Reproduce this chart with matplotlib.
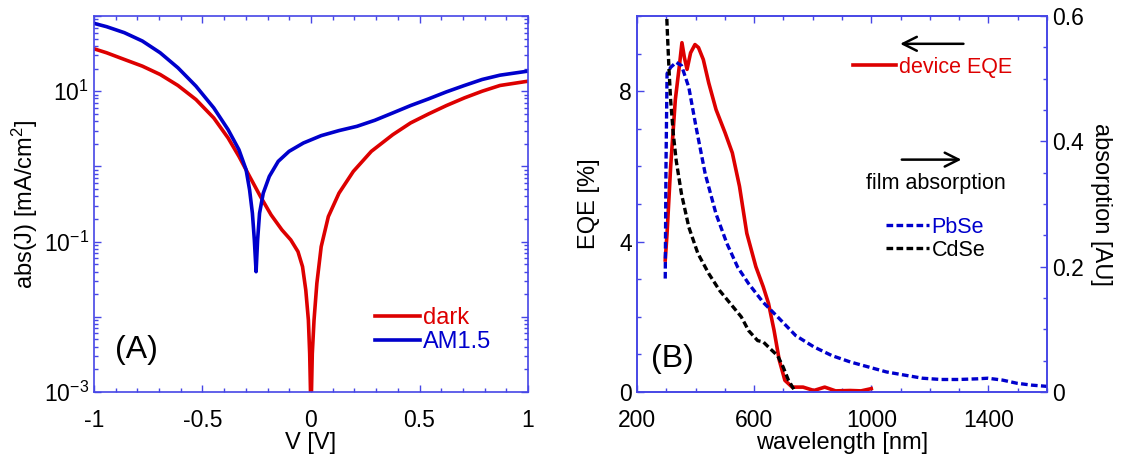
import math
import matplotlib
matplotlib.use('Agg')
import matplotlib.pyplot as plt
from matplotlib.ticker import MultipleLocator, FixedLocator, LogLocator, FuncFormatter, NullFormatter

plt.rcParams['font.family'] = ['Liberation Sans', 'DejaVu Sans']
plt.rcParams['mathtext.fontset'] = 'custom'
plt.rcParams['mathtext.rm'] = 'Liberation Sans'
plt.rcParams['mathtext.it'] = 'Liberation Sans'

RED = '#dd0000'
BLUE = '#0000cc'
SPINE = '#4646e6'

# (A) J-V curves, log10 of abs(J) in mA/cm^2
v_light = [-1.0, -0.942, -0.860, -0.777, -0.695, -0.613, -0.530, -0.448, -0.382, -0.332, -0.299,
           -0.283, -0.270, -0.261, -0.253, -0.246, -0.237, -0.220, -0.192, -0.151, -0.101, -0.035,
           0.047, 0.129, 0.212, 0.294, 0.377, 0.459, 0.542, 0.624, 0.707, 0.789, 0.871, 1.0]
logj_light = [1.902, 1.858, 1.778, 1.667, 1.511, 1.311, 1.067, 0.778, 0.489, 0.222, -0.044,
              -0.311, -0.622, -0.978, -1.4, -0.978, -0.622, -0.356, -0.133, 0.067, 0.2, 0.311,
              0.409, 0.476, 0.533, 0.613, 0.711, 0.809, 0.898, 0.991, 1.076, 1.156, 1.213, 1.267]

v_dark = [-1.0, -0.942, -0.860, -0.777, -0.695, -0.613, -0.530, -0.448, -0.382, -0.332, -0.283,
          -0.233, -0.184, -0.134, -0.093, -0.060, -0.039, -0.024, -0.012, -0.006, 0.0, 0.006,
          0.014, 0.027, 0.047, 0.080, 0.129, 0.195, 0.278, 0.377, 0.459, 0.542, 0.624, 0.707,
          0.789, 0.871, 1.0]
logj_dark = [1.564, 1.511, 1.422, 1.333, 1.222, 1.076, 0.889, 0.644, 0.378, 0.133, -0.133,
             -0.4, -0.644, -0.844, -0.978, -1.133, -1.333, -1.644, -2.044, -2.49, -3.3, -2.49,
             -2.044, -1.556, -1.067, -0.667, -0.356, -0.067, 0.2, 0.422, 0.578, 0.698, 0.809, 0.911,
             1.0, 1.076, 1.133]

j_light = [10 ** v for v in logj_light]
j_dark = [10 ** v for v in logj_dark]

# (B) device EQE [%]
wl_eqe = [296.5, 302.7, 315, 331, 346, 353.5, 362, 371, 383, 398, 410, 426.5, 445, 470, 501,
          525.5, 550, 575, 606, 631, 649, 668, 686, 705, 730, 767, 804, 841, 878, 928, 965, 1000]
eqe = [3.51, 4.22, 6.0, 7.78, 8.76, 9.29, 8.89, 8.58, 9.02, 9.24, 9.16, 8.84, 8.22, 7.51, 6.89,
       6.36, 5.47, 4.22, 3.33, 2.8, 2.36, 1.64, 0.84, 0.31, 0.13, 0.13, 0.04, 0.13, 0.03, 0.04, 0.03, 0.09]

# film absorption [AU]
wl_pbse = [296.5, 299, 302.7, 315, 333.7, 352, 377, 402, 433, 470, 507, 544, 581, 631, 680, 742,
           804, 866, 928, 990, 1052, 1113, 1175, 1237, 1299, 1361, 1398, 1448, 1497, 1547, 1600]
abs_pbse = [0.181, 0.359, 0.508, 0.518, 0.526, 0.521, 0.486, 0.422, 0.348, 0.284, 0.237, 0.199,
            0.173, 0.143, 0.120, 0.090, 0.072, 0.058, 0.048, 0.040, 0.032, 0.027, 0.022, 0.020,
            0.020, 0.021, 0.022, 0.019, 0.014, 0.011, 0.009]

wl_cdse = [299, 304, 309, 315, 324, 334, 352, 377, 408, 445, 482, 519, 556, 581, 612, 631, 655,
           680, 699, 717, 736, 742]
abs_cdse = [0.63, 0.571, 0.518, 0.465, 0.412, 0.369, 0.316, 0.263, 0.221, 0.189, 0.162, 0.141,
            0.120, 0.098, 0.082, 0.080, 0.069, 0.058, 0.040, 0.019, 0.004, 0.0]

wl_ticks = [200, 600, 1000, 1400]

fig = plt.figure(figsize=(11.28, 4.62), dpi=100)
ax1 = fig.add_axes([0.0833, 0.1515, 0.3848, 0.8139])
ax2 = fig.add_axes([0.5647, 0.1515, 0.3635, 0.8139])


def style_spines(ax):
    for s in ax.spines.values():
        s.set_color(SPINE)
        s.set_linewidth(1.2)


def style_ticks(ax, **kw):
    ax.tick_params(which='both', direction='in', color=SPINE, labelsize=16.5, **kw)
    ax.tick_params(which='major', length=5, width=1)
    ax.tick_params(which='minor', length=3, width=1)


# Panel A
ax1.semilogy(v_dark, j_dark, color=RED, lw=2.6, label='dark')
ax1.semilogy(v_light, j_light, color=BLUE, lw=2.6, label='AM1.5')
ax1.set_xlim(-1, 1)
ax1.set_ylim(1e-3, 1e2)
ax1.xaxis.set_major_locator(MultipleLocator(0.5))
ax1.xaxis.set_minor_locator(MultipleLocator(0.1))
ax1.xaxis.set_major_formatter(FuncFormatter(lambda x, p: '%g' % x))
ax1.yaxis.set_major_locator(LogLocator(base=10, numticks=20))
ax1.yaxis.set_minor_locator(LogLocator(base=10, subs=range(2, 10), numticks=20))
ax1.yaxis.set_minor_formatter(NullFormatter())


def log_fmt(y, p):
    e = int(round(math.log10(y)))
    if e % 2 == 0:
        return ''
    return r'$\mathregular{10^{%d}}$' % e


ax1.yaxis.set_major_formatter(FuncFormatter(log_fmt))
style_ticks(ax1, top=True, right=True)
ax1.tick_params(axis='x', pad=12)
style_spines(ax1)
ax1.set_xlabel('V [V]', fontsize=17, labelpad=0)
ax1.set_ylabel(r'abs(J) [mA/cm$\mathregular{^2}$]', fontsize=17, labelpad=3)
ax1.text(0.099, 0.111, '(A)', transform=ax1.transAxes, fontsize=23, ha='center', va='center')
ax1.legend(loc='center left', bbox_to_anchor=(0.648, 0.165), frameon=False, fontsize=17,
           labelcolor='linecolor', handlelength=1.9, handletextpad=0.12, labelspacing=0.1,
           borderaxespad=0, borderpad=0)

# Panel B
ax2.plot(wl_eqe, eqe, color=RED, lw=2.6, label='device EQE')
ax2.set_xlim(200, 1600)
ax2.set_ylim(0, 10)
ax2.xaxis.set_major_locator(FixedLocator(wl_ticks))
ax2.xaxis.set_minor_locator(MultipleLocator(100))
ax2.yaxis.set_major_locator(MultipleLocator(4))
ax2.yaxis.set_minor_locator(MultipleLocator(1))
style_ticks(ax2, top=True, right=False)
ax2.tick_params(axis='x', pad=12)
style_spines(ax2)
ax2.set_xlabel('wavelength [nm]', fontsize=17, labelpad=0)
ax2.set_ylabel('EQE [%]', fontsize=17, labelpad=14)
ax2.text(0.087, 0.089, '(B)', transform=ax2.transAxes, fontsize=23, ha='center', va='center')

ax3 = ax2.twinx()
ax3.plot(wl_pbse, abs_pbse, color=BLUE, lw=2.4, ls=(0, (2, 1)), label='PbSe')
ax3.plot(wl_cdse, abs_cdse, color='black', lw=2.4, ls=(0, (2, 1)), label='CdSe')
ax3.set_ylim(0, 0.6)
ax3.yaxis.set_major_locator(MultipleLocator(0.2))
ax3.yaxis.set_minor_locator(MultipleLocator(0.05))
ax3.yaxis.set_major_formatter(FuncFormatter(lambda y, p: '%g' % round(y, 2)))
style_ticks(ax3)
style_spines(ax3)
ax3.set_ylabel('absorption [AU]', fontsize=17, rotation=270, labelpad=20)

ax2.legend(loc='center left', bbox_to_anchor=(0.527, 0.864), frameon=False, fontsize=15.5,
           labelcolor='linecolor', handlelength=2.0, handletextpad=0.12, borderaxespad=0,
           borderpad=0)
ax3.legend(loc='center left', bbox_to_anchor=(0.607, 0.408), frameon=False, fontsize=15.5,
           labelcolor='linecolor', handlelength=2.0, handletextpad=0.12, labelspacing=0.1,
           borderaxespad=0, borderpad=0)

ax3.annotate('', xy=(0.635, 0.926), xytext=(0.803, 0.926), xycoords='axes fraction',
             arrowprops=dict(arrowstyle='->', color='black', lw=1.8, mutation_scale=25))
ax3.annotate('', xy=(0.798, 0.618), xytext=(0.639, 0.618), xycoords='axes fraction',
             arrowprops=dict(arrowstyle='->', color='black', lw=1.8, mutation_scale=25))
ax3.text(0.730, 0.555, 'film absorption', transform=ax3.transAxes, fontsize=15.5,
         ha='center', va='center')

fig.savefig('out.png', dpi=100)
